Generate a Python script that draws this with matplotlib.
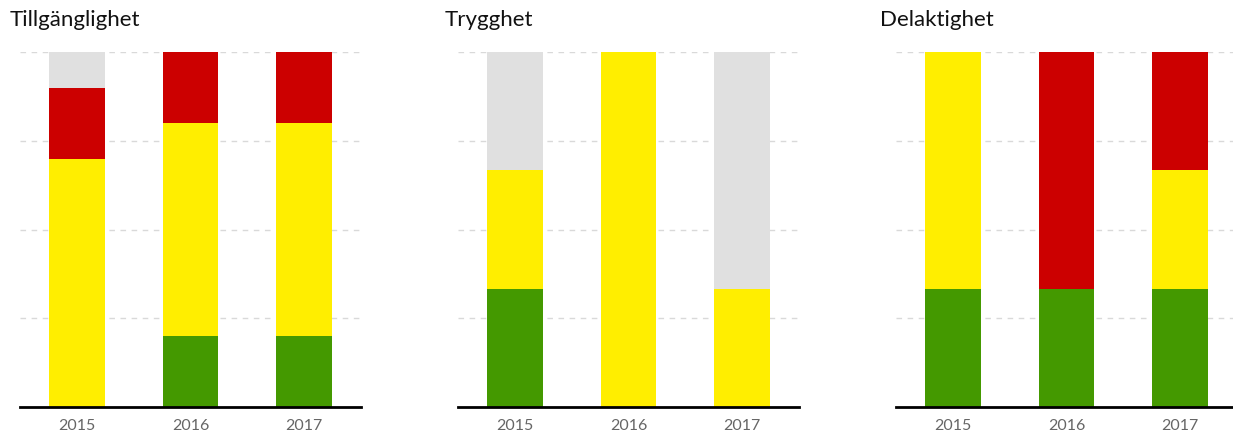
import matplotlib.pyplot as plt

years = ["2015", "2016", "2017"]
titles = ["Tillgänglighet", "Trygghet", "Delaktighet"]

# share of each category per year, bottom to top: green, yellow, red, grey
green = [[0.0, 0.2, 0.2], [1/3, 0.0, 0.0], [1/3, 1/3, 1/3]]
yellow = [[0.7, 0.6, 0.6], [1/3, 1.0, 1/3], [2/3, 0.0, 1/3]]
red = [[0.2, 0.2, 0.2], [0.0, 0.0, 0.0], [0.0, 2/3, 1/3]]
grey = [[0.1, 0.0, 0.0], [1/3, 0.0, 2/3], [0.0, 0.0, 0.0]]

colors = ["#449900", "#ffee00", "#cc0000", "#e0e0e0"]

plt.rcParams['font.family'] = ['Lato', 'DejaVu Sans']

fig = plt.figure(figsize=(12.33, 4.37), dpi=100)
W, H = 1233, 437

for i, title in enumerate(titles):
    left = 20 + 438 * i
    ax = fig.add_axes([left / W, 1 - 407 / H, 341 / W, 355 / H])
    x = range(len(years))
    bottom = [0.0] * len(years)
    for series, c in zip([green[i], yellow[i], red[i], grey[i]], colors):
        ax.bar(x, series, width=0.49, bottom=bottom, color=c, zorder=2)
        bottom = [b + s for b, s in zip(bottom, series)]
    ax.set_xlim(-0.5, 2.5)
    ax.set_ylim(0, 1)
    ax.set_yticks([0.25, 0.5, 0.75, 1.0])
    ax.yaxis.grid(True, linestyle=(0, (4, 4)), color="#d9d9d9", linewidth=1, zorder=0)
    ax.tick_params(axis="y", left=False, labelleft=False)
    ax.set_xticks(list(x))
    ax.set_xticklabels(years, color="#666666", fontsize=11.5)
    ax.tick_params(axis="x", length=0, pad=9)
    for s in ["top", "right", "left"]:
        ax.spines[s].set_visible(False)
    ax.spines["bottom"].set_linewidth(2)
    ax.spines["bottom"].set_color("black")
    ax.spines["bottom"].set_zorder(3)
    fig.text((left - 10 + (i * -3)) / W, 1 - 20 / H, title, fontsize=16, va="center", ha="left", color="#111111")

fig.savefig("out.png", dpi=100)
